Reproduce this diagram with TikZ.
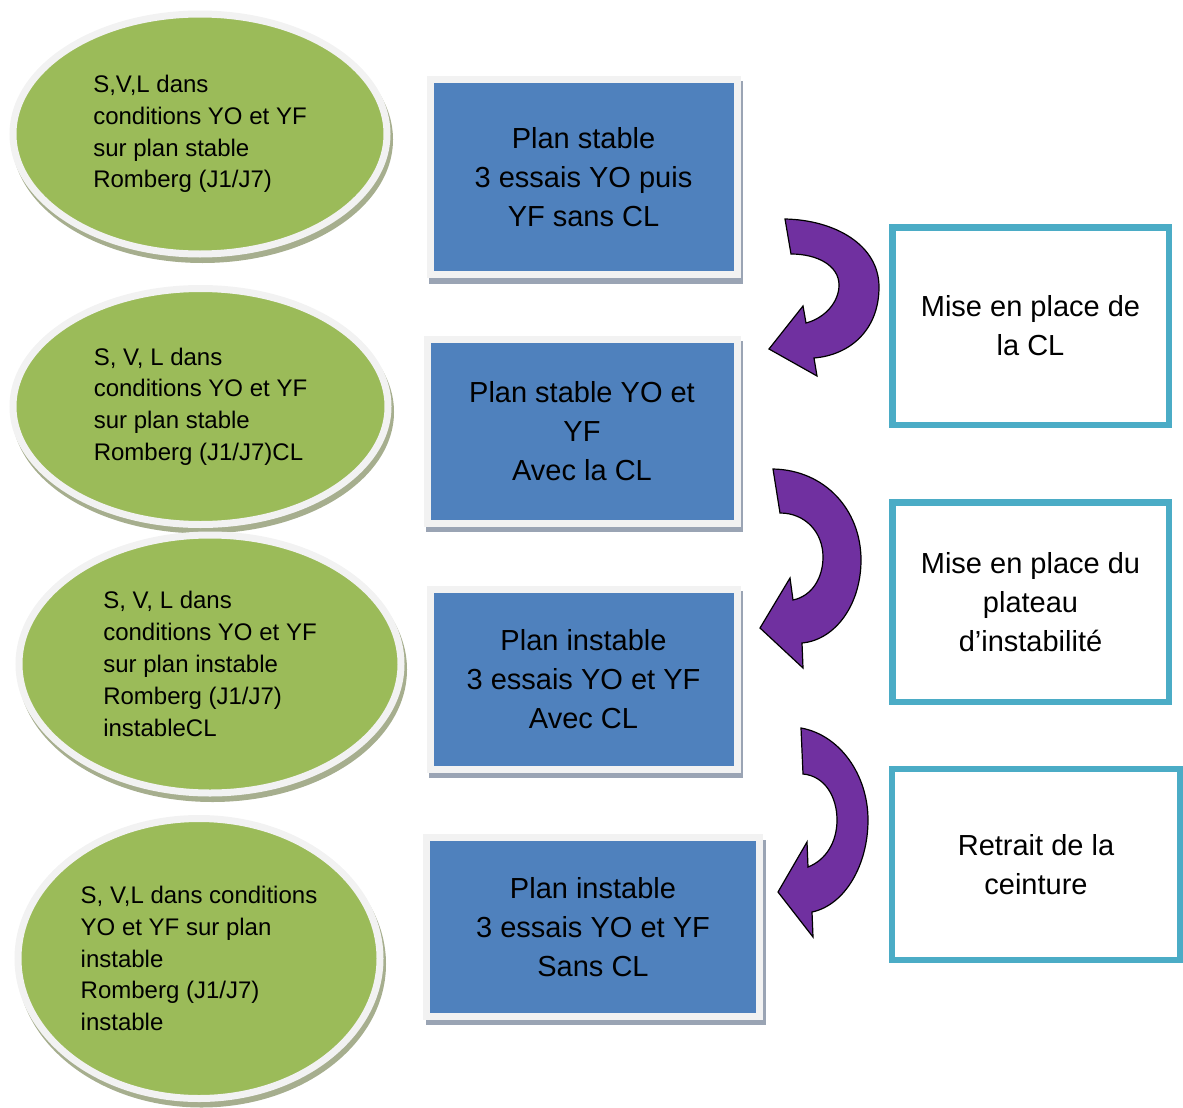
\documentclass[tikz,border=0pt]{standalone}
\usepackage{fontspec}
\setmainfont{Liberation Sans}
\usepackage{xcolor}
\usepackage{tikz}
\usetikzlibrary{shapes.geometric, shadows}

\definecolor{vertEll}{HTML}{9BBB59}
\definecolor{bleuBox}{HTML}{4F81BD}
\definecolor{turqBox}{HTML}{4BACC6}
\definecolor{violetFl}{HTML}{7030A0}
\definecolor{bordClair}{HTML}{F2F2F2}
\definecolor{ombreV}{HTML}{A6AE8E}
\definecolor{ombreB}{HTML}{9AA4B4}

\begin{document}
\begin{tikzpicture}[x=0.5pt, y=-0.5pt]
        \tikzstyle{ellBox} = [ellipse, fill=vertEll, draw=bordClair, line width=3.5pt, align=left, font=\fontsize{12}{15.9}\selectfont, general shadow={fill=ombreV, draw=ombreV, line width=3.5pt, shadow xshift=1.25pt, shadow yshift=-2.75pt}]
        \tikzstyle{planBox} = [rectangle, fill=bleuBox, draw=bordClair, line width=3.5pt, align=center, font=\fontsize{14.5}{19.5}\selectfont, general shadow={fill=ombreB, draw=ombreB, line width=3.5pt, shadow xshift=1.25pt, shadow yshift=-2.75pt}]
        \tikzstyle{etapeBox} = [rectangle, fill=white, draw=turqBox, line width=3.25pt, align=center, font=\fontsize{14.5}{19.5}\selectfont]
        \tikzstyle{flecheC} = [fill=violetFl, draw=black, line width=0.6pt, line join=miter]

        \useasboundingbox (0,0) rectangle (1183,1108);

        \node[ellBox, minimum width=187pt, minimum height=120pt] (ell1) at (200,134) {S,V,L dans\\conditions YO et YF\\sur plan stable\\Romberg (J1/J7)};
        \node[ellBox, minimum width=187.5pt, minimum height=118pt] (ell2) at (200.5,406.5) {S, V, L dans\\conditions YO et YF\\sur plan stable\\Romberg (J1/J7)CL};
        \node[ellBox, minimum width=191pt, minimum height=129pt] (ell3) at (210,664) {S, V, L dans\\conditions YO et YF\\sur plan instable\\Romberg (J1/J7)\\instableCL};
        \node[ellBox, minimum width=181pt, minimum height=140pt] (ell4) at (199,958.5) {S, V,L dans conditions\\YO et YF sur plan\\instable\\Romberg (J1/J7)\\instable};

        \node[planBox, minimum width=153.5pt, minimum height=97.75pt] (plan1) at (583.5,176.75) {Plan stable\\3 essais YO puis\\YF sans CL};
        \node[planBox, minimum width=155pt, minimum height=92pt] (plan2) at (582,431) {Plan stable YO et\\YF\\Avec la CL};
        \node[planBox, minimum width=153.5pt, minimum height=90pt] (plan3) at (583.5,679) {Plan instable\\3 essais YO et YF\\Avec CL};
        \node[planBox, minimum width=166.5pt, minimum height=89.25pt] (plan4) at (593,927) {Plan instable\\3 essais YO et YF\\Sans CL};

        \node[etapeBox, minimum width=138.25pt, minimum height=98.75pt] (etape1) at (1030.5,326) {Mise en place de\\la CL};
        \node[etapeBox, minimum width=138.25pt, minimum height=99.75pt] (etape2) at (1030.5,602) {Mise en place du\\plateau\\d’instabilité};
        \node[etapeBox, minimum width=144pt, minimum height=95.5pt] (etape3) at (1036,864.5) {Retrait de la\\ceinture};

        \draw[flecheC] (785,219) .. controls (835,220) and (879,245) .. (879,287) .. controls (879,330) and (850,355) .. (814,358) -- (817,376) -- (769,349) -- (803,306) -- (806,323) .. controls (825,318) and (839,302) .. (839,285) .. controls (839,266) and (818,254) .. (791,254) -- cycle;
        \draw[flecheC] (773,469) .. controls (825,470) and (861,510) .. (861,560) .. controls (861,605) and (835,640) .. (802,643) -- (803,668) -- (760,628) -- (790,578) -- (793,600) .. controls (812,596) and (823,578) .. (823,557) .. controls (823,532) and (805,513) .. (780,513) -- cycle;
        \draw[flecheC] (801,728) .. controls (840,735) and (868,775) .. (868,820) .. controls (868,865) and (845,905) .. (812,912) -- (813,937) -- (778,892) -- (807,842) -- (808,867) .. controls (826,860) and (837,842) .. (837,820) .. controls (837,797) and (825,776) .. (803,774) -- cycle;
    \end{tikzpicture}
\end{document}
